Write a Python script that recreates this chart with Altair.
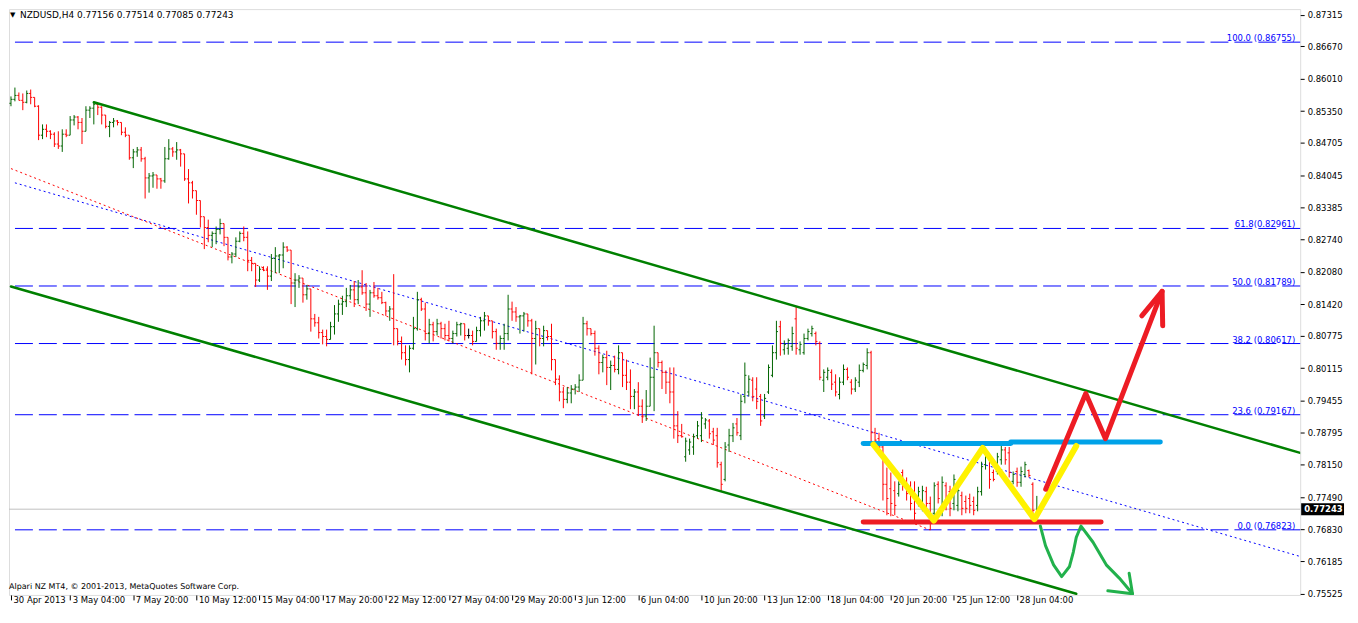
import json
import altair as alt
import pandas as pd

# ---------------- NZDUSD H4 bars (bar 0 = 30 Apr 2013 16:00) ----------------
opens = [
    0.8551, 0.8559, 0.8567, 0.8557, 0.8553, 0.8571, 0.8563, 0.8545, 0.8486, 0.8498,
    0.8494, 0.8488, 0.8468, 0.8464, 0.8488, 0.8486, 0.8517, 0.8523, 0.8512, 0.8494,
    0.8537, 0.8541, 0.8549, 0.8543, 0.8527, 0.8504, 0.8512, 0.8515, 0.8512, 0.8492,
    0.8486, 0.8440, 0.8452, 0.8456, 0.8438, 0.8399, 0.8403, 0.8405, 0.8397, 0.8393,
    0.8438, 0.8458, 0.8452, 0.8456, 0.8448, 0.8397, 0.8389, 0.8373, 0.8353, 0.8320,
    0.8298, 0.8282, 0.8286, 0.8294, 0.8306, 0.8278, 0.8238, 0.8244, 0.8270, 0.8286,
    0.8278, 0.8231, 0.8225, 0.8191, 0.8213, 0.8211, 0.8199, 0.8235, 0.8240, 0.8242,
    0.8258, 0.8252, 0.8185, 0.8191, 0.8195, 0.8161, 0.8173, 0.8112, 0.8104, 0.8084,
    0.8076, 0.8070, 0.8096, 0.8122, 0.8142, 0.8147, 0.8159, 0.8171, 0.8151, 0.8177,
    0.8165, 0.8142, 0.8165, 0.8159, 0.8155, 0.8145, 0.8128, 0.8132, 0.8092, 0.8066,
    0.8043, 0.8029, 0.8052, 0.8092, 0.8151, 0.8132, 0.8082, 0.8100, 0.8086, 0.8102,
    0.8092, 0.8078, 0.8072, 0.8082, 0.8100, 0.8102, 0.8078, 0.8078, 0.8066, 0.8088,
    0.8108, 0.8118, 0.8108, 0.8086, 0.8062, 0.8072, 0.8082, 0.8132, 0.8126, 0.8116,
    0.8118, 0.8122, 0.8108, 0.8072, 0.8092, 0.8072, 0.8088, 0.8076, 0.8029, 0.7989,
    0.7963, 0.7948, 0.7961, 0.7969, 0.7973, 0.7987, 0.8102, 0.8092, 0.8082, 0.8052,
    0.8023, 0.8033, 0.8013, 0.8017, 0.8009, 0.8043, 0.7997, 0.7983, 0.7954, 0.7963,
    0.7934, 0.7914, 0.7934, 0.7993, 0.8043, 0.8023, 0.8003, 0.7983, 0.7963, 0.7894,
    0.7874, 0.7831, 0.7845, 0.7851, 0.7874, 0.7874, 0.7898, 0.7904, 0.7882, 0.7874,
    0.7815, 0.7785, 0.7855, 0.7874, 0.7898, 0.7874, 0.7954, 0.7963, 0.7987, 0.7969,
    0.7954, 0.7914, 0.7963, 0.7997, 0.8043, 0.8096, 0.8049, 0.8052, 0.8056, 0.8112,
    0.8049, 0.8043, 0.8072, 0.8082, 0.8082, 0.8062, 0.7987, 0.7993, 0.8003, 0.7983,
    0.7958, 0.7983, 0.8009, 0.7983, 0.7969, 0.7983, 0.8007, 0.8017, 0.8043, 0.7880,
    0.7868, 0.7851, 0.7775, 0.7766, 0.7762, 0.7756, 0.7799, 0.7775, 0.7766, 0.7756,
    0.7736, 0.7732, 0.7760, 0.7736, 0.7716, 0.7775, 0.7726, 0.7772, 0.7760, 0.7736,
    0.7732, 0.7752, 0.7740, 0.7746, 0.7740, 0.7732, 0.7760, 0.7815, 0.7831, 0.7799,
    0.7801, 0.7825, 0.7845, 0.7839, 0.7781, 0.7801, 0.7779, 0.7795, 0.7803, 0.7775,
    0.77156,
]
highs = [
    0.8565, 0.8583, 0.8573, 0.8571, 0.8577, 0.8579, 0.8563, 0.8547, 0.8508, 0.8508,
    0.8496, 0.8492, 0.8494, 0.8498, 0.8498, 0.8525, 0.8527, 0.8525, 0.8521, 0.8545,
    0.8545, 0.8553, 0.8551, 0.8545, 0.8527, 0.8515, 0.8521, 0.8517, 0.8512, 0.8502,
    0.8486, 0.8458, 0.8462, 0.8462, 0.8442, 0.8409, 0.8411, 0.8405, 0.8399, 0.8462,
    0.8478, 0.8462, 0.8472, 0.8458, 0.8448, 0.8417, 0.8393, 0.8373, 0.8353, 0.8320,
    0.8314, 0.8290, 0.8300, 0.8316, 0.8306, 0.8278, 0.8248, 0.8278, 0.8290, 0.8300,
    0.8290, 0.8238, 0.8225, 0.8219, 0.8219, 0.8219, 0.8244, 0.8258, 0.8244, 0.8268,
    0.8260, 0.8252, 0.8205, 0.8201, 0.8195, 0.8181, 0.8173, 0.8122, 0.8116, 0.8090,
    0.8090, 0.8106, 0.8140, 0.8151, 0.8159, 0.8175, 0.8181, 0.8189, 0.8191, 0.8211,
    0.8185, 0.8171, 0.8187, 0.8175, 0.8167, 0.8147, 0.8138, 0.8203, 0.8092, 0.8076,
    0.8058, 0.8058, 0.8116, 0.8167, 0.8155, 0.8145, 0.8112, 0.8106, 0.8112, 0.8106,
    0.8102, 0.8108, 0.8088, 0.8106, 0.8104, 0.8102, 0.8092, 0.8088, 0.8096, 0.8116,
    0.8126, 0.8118, 0.8108, 0.8092, 0.8078, 0.8102, 0.8161, 0.8147, 0.8136, 0.8120,
    0.8126, 0.8122, 0.8112, 0.8108, 0.8092, 0.8098, 0.8088, 0.8102, 0.8029, 0.7997,
    0.7973, 0.7973, 0.7977, 0.7979, 0.7999, 0.8116, 0.8108, 0.8092, 0.8088, 0.8058,
    0.8039, 0.8047, 0.8027, 0.8037, 0.8058, 0.8043, 0.8029, 0.8009, 0.7969, 0.7983,
    0.7948, 0.7967, 0.8033, 0.8098, 0.8043, 0.8027, 0.8007, 0.8013, 0.8013, 0.7924,
    0.7898, 0.7870, 0.7868, 0.7878, 0.7904, 0.7922, 0.7910, 0.7908, 0.7890, 0.7890,
    0.7821, 0.7861, 0.7888, 0.7900, 0.7910, 0.7958, 0.8023, 0.7997, 0.7993, 0.7993,
    0.7959, 0.7959, 0.8019, 0.8058, 0.8108, 0.8108, 0.8068, 0.8072, 0.8096, 0.8138,
    0.8066, 0.8082, 0.8092, 0.8098, 0.8086, 0.8066, 0.8009, 0.8013, 0.8009, 0.7999,
    0.7993, 0.8019, 0.8013, 0.7989, 0.7993, 0.8019, 0.8023, 0.8052, 0.8047, 0.7890,
    0.7880, 0.7855, 0.7809, 0.7799, 0.7781, 0.7781, 0.7805, 0.7789, 0.7781, 0.7781,
    0.7770, 0.7772, 0.7770, 0.7750, 0.7779, 0.7781, 0.7791, 0.7779, 0.7772, 0.7795,
    0.7770, 0.7760, 0.7752, 0.7756, 0.7750, 0.7770, 0.7821, 0.7851, 0.7835, 0.7805,
    0.7839, 0.7855, 0.7851, 0.7851, 0.7801, 0.7809, 0.7811, 0.7821, 0.7805, 0.7779,
    0.77514,
]
lows = [
    0.8545, 0.8555, 0.8557, 0.8537, 0.8551, 0.8549, 0.8543, 0.8476, 0.8478, 0.8482,
    0.8478, 0.8462, 0.8458, 0.8452, 0.8482, 0.8486, 0.8506, 0.8498, 0.8468, 0.8494,
    0.8521, 0.8508, 0.8527, 0.8508, 0.8500, 0.8482, 0.8502, 0.8506, 0.8486, 0.8482,
    0.8436, 0.8419, 0.8442, 0.8432, 0.8357, 0.8369, 0.8379, 0.8377, 0.8377, 0.8389,
    0.8436, 0.8442, 0.8436, 0.8422, 0.8393, 0.8347, 0.8357, 0.8324, 0.8298, 0.8254,
    0.8268, 0.8258, 0.8264, 0.8284, 0.8260, 0.8231, 0.8225, 0.8238, 0.8268, 0.8270,
    0.8209, 0.8209, 0.8177, 0.8187, 0.8209, 0.8171, 0.8189, 0.8205, 0.8205, 0.8215,
    0.8248, 0.8142, 0.8136, 0.8175, 0.8145, 0.8151, 0.8086, 0.8096, 0.8072, 0.8060,
    0.8056, 0.8070, 0.8080, 0.8106, 0.8120, 0.8136, 0.8151, 0.8136, 0.8142, 0.8161,
    0.8128, 0.8116, 0.8155, 0.8151, 0.8142, 0.8118, 0.8108, 0.8058, 0.8058, 0.8029,
    0.8017, 0.8003, 0.8049, 0.8088, 0.8128, 0.8068, 0.8062, 0.8066, 0.8078, 0.8072,
    0.8068, 0.8066, 0.8062, 0.8076, 0.8078, 0.8068, 0.8072, 0.8058, 0.8066, 0.8076,
    0.8088, 0.8098, 0.8072, 0.8049, 0.8049, 0.8049, 0.8068, 0.8108, 0.8106, 0.8082,
    0.8086, 0.8096, 0.7999, 0.8019, 0.8056, 0.8056, 0.8068, 0.8007, 0.7977, 0.7944,
    0.7930, 0.7940, 0.7940, 0.7958, 0.7963, 0.7987, 0.8078, 0.8078, 0.8037, 0.7999,
    0.8003, 0.7977, 0.7967, 0.8003, 0.7999, 0.7973, 0.7967, 0.7928, 0.7928, 0.7914,
    0.7900, 0.7904, 0.7934, 0.7924, 0.8013, 0.7969, 0.7959, 0.7940, 0.7868, 0.7859,
    0.7870, 0.7821, 0.7835, 0.7835, 0.7868, 0.7861, 0.7888, 0.7868, 0.7855, 0.7809,
    0.7760, 0.7781, 0.7841, 0.7861, 0.7874, 0.7865, 0.7940, 0.7954, 0.7944, 0.7928,
    0.7894, 0.7908, 0.7959, 0.7993, 0.8029, 0.8037, 0.8039, 0.8039, 0.8047, 0.8039,
    0.8039, 0.8039, 0.8068, 0.8076, 0.8058, 0.7987, 0.7963, 0.7987, 0.7967, 0.7954,
    0.7948, 0.7977, 0.7987, 0.7958, 0.7963, 0.7973, 0.8003, 0.8009, 0.7859, 0.7855,
    0.7841, 0.7742, 0.7712, 0.7710, 0.7712, 0.7750, 0.7762, 0.7742, 0.7722, 0.7696,
    0.7730, 0.7720, 0.7722, 0.7682, 0.7702, 0.7736, 0.7710, 0.7722, 0.7710, 0.7722,
    0.7720, 0.7712, 0.7716, 0.7716, 0.7712, 0.7720, 0.7752, 0.7805, 0.7766, 0.7781,
    0.7795, 0.7815, 0.7815, 0.7789, 0.7775, 0.7770, 0.7770, 0.7789, 0.7789, 0.7702,
    0.77085,
]
closes = [
    0.8559, 0.8567, 0.8557, 0.8553, 0.8571, 0.8563, 0.8545, 0.8486, 0.8498, 0.8494,
    0.8488, 0.8468, 0.8464, 0.8488, 0.8486, 0.8517, 0.8523, 0.8512, 0.8494, 0.8537,
    0.8541, 0.8549, 0.8543, 0.8527, 0.8504, 0.8512, 0.8515, 0.8512, 0.8492, 0.8486,
    0.8440, 0.8452, 0.8456, 0.8438, 0.8399, 0.8403, 0.8405, 0.8397, 0.8393, 0.8438,
    0.8458, 0.8452, 0.8456, 0.8448, 0.8397, 0.8389, 0.8373, 0.8353, 0.8320, 0.8298,
    0.8282, 0.8286, 0.8294, 0.8306, 0.8278, 0.8238, 0.8244, 0.8270, 0.8286, 0.8278,
    0.8231, 0.8225, 0.8191, 0.8213, 0.8211, 0.8199, 0.8235, 0.8240, 0.8242, 0.8258,
    0.8252, 0.8185, 0.8191, 0.8195, 0.8161, 0.8173, 0.8112, 0.8104, 0.8084, 0.8076,
    0.8070, 0.8096, 0.8122, 0.8142, 0.8147, 0.8159, 0.8171, 0.8151, 0.8177, 0.8165,
    0.8142, 0.8165, 0.8159, 0.8155, 0.8145, 0.8128, 0.8132, 0.8092, 0.8066, 0.8043,
    0.8029, 0.8052, 0.8092, 0.8151, 0.8132, 0.8082, 0.8100, 0.8086, 0.8102, 0.8092,
    0.8078, 0.8072, 0.8082, 0.8100, 0.8102, 0.8078, 0.8078, 0.8066, 0.8088, 0.8108,
    0.8118, 0.8108, 0.8086, 0.8062, 0.8072, 0.8082, 0.8132, 0.8126, 0.8116, 0.8118,
    0.8122, 0.8108, 0.8072, 0.8092, 0.8072, 0.8088, 0.8076, 0.8029, 0.7989, 0.7963,
    0.7948, 0.7961, 0.7969, 0.7973, 0.7987, 0.8102, 0.8092, 0.8082, 0.8052, 0.8023,
    0.8033, 0.8013, 0.8017, 0.8009, 0.8043, 0.7997, 0.7983, 0.7954, 0.7963, 0.7934,
    0.7914, 0.7934, 0.7993, 0.8043, 0.8023, 0.8003, 0.7983, 0.7963, 0.7894, 0.7874,
    0.7872, 0.7863, 0.7861, 0.7872, 0.7894, 0.7910, 0.7906, 0.7878, 0.7865, 0.7819,
    0.7775, 0.7851, 0.7874, 0.7890, 0.7880, 0.7944, 0.7997, 0.7989, 0.7954, 0.7944,
    0.7904, 0.7950, 0.8013, 0.8043, 0.8086, 0.8062, 0.8060, 0.8068, 0.8082, 0.8052,
    0.8060, 0.8072, 0.8086, 0.8092, 0.8066, 0.7993, 0.8003, 0.8007, 0.7979, 0.7963,
    0.7983, 0.8009, 0.7993, 0.7969, 0.7987, 0.8007, 0.8019, 0.8043, 0.7880, 0.7865,
    0.7851, 0.7775, 0.7746, 0.7736, 0.7732, 0.7775, 0.7772, 0.7756, 0.7736, 0.7716,
    0.7760, 0.7762, 0.7736, 0.7712, 0.7772, 0.7746, 0.7779, 0.7736, 0.7726, 0.7785,
    0.7762, 0.7726, 0.7726, 0.7732, 0.7722, 0.7760, 0.7811, 0.7841, 0.7785, 0.7785,
    0.7831, 0.7845, 0.7825, 0.7799, 0.7795, 0.7779, 0.7801, 0.7815, 0.7793, 0.7722,
    0.77243,
]

# ---------------- axes ----------------
tick_bars = [0, 15, 31, 47, 63, 79, 95, 111, 127, 143, 159, 175, 191, 207, 223, 239, 255]
tick_labels = ["30 Apr 2013", "3 May 04:00", "7 May 20:00", "10 May 12:00", "15 May 04:00",
               "17 May 20:00", "22 May 12:00", "27 May 04:00", "29 May 20:00", "3 Jun 12:00",
               "6 Jun 04:00", "10 Jun 20:00", "13 Jun 12:00", "18 Jun 04:00", "20 Jun 20:00",
               "25 Jun 12:00", "28 Jun 04:00"]
price_ticks = [0.87315, 0.86670, 0.86010, 0.85350, 0.84705, 0.84045, 0.83385, 0.82740,
               0.82080, 0.81420, 0.80775, 0.80115, 0.79455, 0.78795, 0.78150, 0.77490,
               0.76830, 0.76185, 0.75525]

# ---------------- Fibonacci levels ----------------
fib_levels = [0.86755, 0.82961, 0.81789, 0.80617, 0.79167, 0.76823]
fib_labels = ["100.0 (0.86755)", "61.8(0.82961)", "50.0 (0.81789)", "38.2 (0.80617)",
              "23.6 (0.79167)", "0.0 (0.76823)"]

# ---------------- trend objects (bar index, price) ----------------
channel_upper = [(21, 0.8553), (326.75, 0.7839)]
channel_lower = [(0, 0.8178), (270, 0.7552)]
trend_blue = [(1, 0.8389), (326.75, 0.7628)]
trend_red = [(0, 0.8418), (233, 0.7682)]

# ---------------- hand-drawn marks (bar index, price) ----------------
cyan_left = [(216, 0.7858), (253.4, 0.7858)]
cyan_right = [(253.4, 0.7861), (291.3, 0.7861)]
red_support = [(216, 0.7698), (276.3, 0.7698)]
yellow_w = [(218.6, 0.7856), (233.9, 0.7701), (246.3, 0.7849), (259.4, 0.7704), (270, 0.7853)]
red_path = [(262.25, 0.7765), (272.4, 0.7960), (277.4, 0.7868), (291.75, 0.8168)]
red_head = [(286.6, 0.8118), (291.75, 0.8168), (291.9, 0.8098)]
green_path = [(260.9, 0.7690), (262.2, 0.7650), (264.25, 0.7611), (266.3, 0.7587),
              (268.25, 0.7607), (269.25, 0.7637), (270, 0.7667), (271.2, 0.7690),
              (274.25, 0.7657), (277.6, 0.7611), (280.9, 0.7584), (284.25, 0.7552)]
green_head = [(278, 0.7558), (284.25, 0.7552), (283.4, 0.7594)]

last_price = closes[-1]

# ---------------- build ----------------
n = len(closes)
bars = pd.DataFrame({"bar": list(range(n)), "open": opens, "high": highs,
                     "low": lows, "close": closes})
bars["dir"] = ["up" if c > o else ("down" if c < o else "flat") for o, c in zip(opens, closes)]
bars["x_left"] = bars["bar"] - 0.4
bars["x_right"] = bars["bar"] + 0.4

W, H = 1296, 588
X_DOMAIN = [-0.5, 326.75]
Y_DOMAIN = [0.75497, 0.87428]
FONT = "DejaVu Sans"

label_expr = "%s[indexof(%s, datum.value)]" % (json.dumps(tick_labels), json.dumps(tick_bars))

x_axis = alt.Axis(values=tick_bars, labelExpr=label_expr, orient="bottom", title=None,
                  grid=False, domain=False, ticks=True, tickSize=5, tickColor="black",
                  labelAlign="left", labelBaseline="top", labelOffset=2, labelPadding=-4,
                  labelFont=FONT, labelFontSize=8.5, labelColor="black",
                  labelOverlap=False, labelFlush=False)
y_axis = alt.Axis(values=price_ticks, format=".5f", orient="right", title=None,
                  grid=False, domain=False, ticks=True, tickSize=4, tickColor="black",
                  labelPadding=3, labelFont=FONT, labelFontSize=8.5, labelColor="black",
                  labelOverlap=False, labelFlush=False)


def X(field):
    return alt.X(field, type="quantitative",
                 scale=alt.Scale(domain=X_DOMAIN, nice=False, zero=False), axis=x_axis)


def Y(field):
    return alt.Y(field, type="quantitative",
                 scale=alt.Scale(domain=Y_DOMAIN, nice=False, zero=False), axis=y_axis)


def line_layer(points, color, width, dash=None):
    df = pd.DataFrame(points, columns=["bar", "price"])
    df["seq"] = list(range(len(df)))
    kw = dict(color=color, strokeWidth=width, clip=True, strokeCap="round", strokeJoin="round")
    if dash is not None:
        kw["strokeDash"] = dash
        kw["strokeCap"] = "butt"
    return alt.Chart(df).mark_line(**kw).encode(x=X("bar"), y=Y("price"), order="seq:Q")


fib_df = pd.DataFrame({"level": fib_levels, "label": fib_labels})
fib_lines = alt.Chart(fib_df).mark_rule(color="#0000ff", strokeWidth=1, strokeDash=[18, 6]).encode(
    y=Y("level"))
fib_text = alt.Chart(fib_df).mark_text(color="#0000ff", font=FONT, fontSize=8.5, align="right",
                                        baseline="alphabetic", dy=-1).encode(
    x=alt.value(W - 5), y=Y("level"), text="label:N")

last_df = pd.DataFrame({"price": [last_price], "label": ["%.5f" % last_price]})
last_line = alt.Chart(last_df).mark_rule(color="#c0c0c0", strokeWidth=1).encode(y=Y("price"))
last_box = alt.Chart(last_df).mark_rule(color="black", strokeWidth=12, strokeCap="butt",
                                        clip=False).encode(
    x=alt.value(W + 1), x2=alt.value(W + 44), y=Y("price"))
last_txt = alt.Chart(last_df).mark_text(color="white", font=FONT, fontSize=8.5, fontWeight="bold",
                                        align="left", baseline="middle").encode(
    x=alt.value(W + 4), y=Y("price"), text="label:N")

color_scale = alt.Scale(domain=["up", "down", "flat"], range=["#006400", "#ff0000", "#000000"])
bar_color = alt.Color("dir:N", scale=color_scale, legend=None)
bar_hl = alt.Chart(bars).mark_rule(strokeWidth=1).encode(
    x=X("bar"), y=Y("low"), y2=alt.Y2("high"), color=bar_color)
bar_open = alt.Chart(bars).mark_rule(strokeWidth=1).encode(
    x=X("x_left"), x2=alt.X2("bar"), y=Y("open"), color=bar_color)
bar_close = alt.Chart(bars).mark_rule(strokeWidth=1).encode(
    x=X("bar"), x2=alt.X2("x_right"), y=Y("close"), color=bar_color)

header = "NZDUSD,H4  %.5f %.5f %.5f %.5f" % (opens[-1], highs[-1], lows[-1], closes[-1])
head_df = pd.DataFrame({"t": [header]})
head_txt = alt.Chart(head_df).mark_text(font=FONT, fontSize=9, align="left", baseline="middle",
                                        color="black").encode(
    x=alt.value(11), y=alt.value(6), text="t:N")
tri_txt = alt.Chart(pd.DataFrame({"t": ["\u25bc"]})).mark_text(
    font=FONT, fontSize=7, align="left", baseline="middle", color="black").encode(
    x=alt.value(1), y=alt.value(6), text="t:N")
copy_txt = alt.Chart(pd.DataFrame({"t": ["Alpari NZ MT4, \u00a9 2001-2013, MetaQuotes Software Corp."]})).mark_text(
    font=FONT, fontSize=8, align="left", baseline="middle", color="black").encode(
    x=alt.value(0), y=alt.value(H - 8), text="t:N")

layers = [
    fib_lines,
    fib_text,
    last_line,
    line_layer(trend_blue, "#0000ff", 1, dash=[2, 3]),
    line_layer(trend_red, "#ff0000", 1, dash=[2, 3]),
    bar_hl, bar_open, bar_close,
    line_layer(channel_upper, "#008000", 2.5),
    line_layer(channel_lower, "#008000", 2.5),
    line_layer(red_support, "#ED1C24", 5),
    line_layer(cyan_left, "#00A2E8", 5),
    line_layer(cyan_right, "#00A2E8", 5),
    line_layer(yellow_w, "#FFF200", 6),
    line_layer(red_path, "#ED1C24", 5),
    line_layer(red_head, "#ED1C24", 5),
    line_layer(green_path, "#22B14C", 3),
    line_layer(green_head, "#22B14C", 3),
    last_box, last_txt,
    head_txt, tri_txt, copy_txt,
]

chart = alt.layer(*layers).properties(
    width=W, height=H, padding=0, background="white"
).configure_view(stroke="black", strokeWidth=1).configure(font=FONT)

chart.save("out.html", embed_options={"renderer": "svg", "actions": False})
